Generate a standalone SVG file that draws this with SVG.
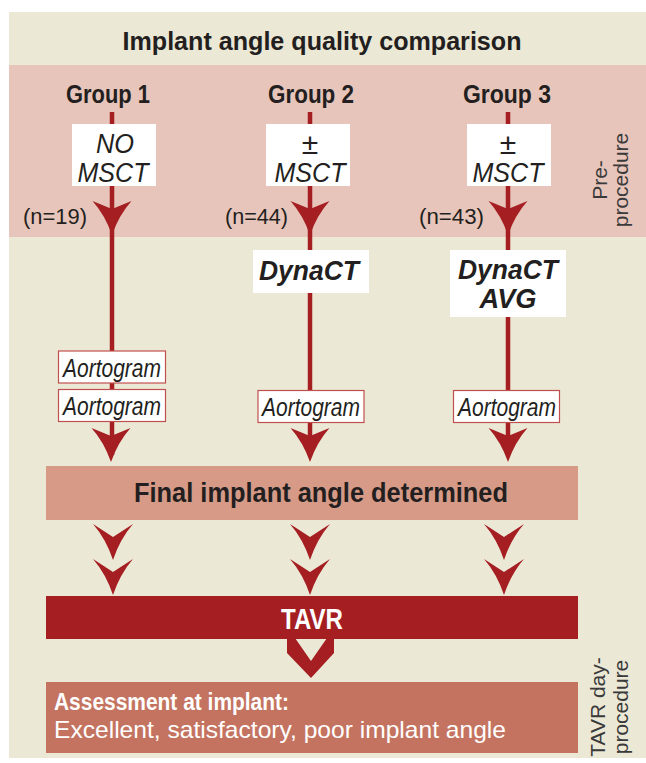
<svg xmlns="http://www.w3.org/2000/svg" width="646" height="763" viewBox="0 0 646 763">
<defs>
<style>
.t{font-family:"Liberation Sans Narrow","Liberation Sans",Arial,sans-serif;fill:#231f20}
.b{font-weight:bold}
.i{font-style:italic}
.w{fill:#ffffff}
.side{font-family:"Liberation Sans",Arial,sans-serif;font-size:21px;fill:#3a3a3a;text-anchor:middle}
.line{stroke:#a51e22;stroke-width:4.5;fill:none}
.wbox{fill:#ffffff}
.abox{fill:#ffffff;stroke:#c0504d;stroke-width:1.2}
.ah{fill:#a51e22}
</style>
<path id="arr" d="M-19.5,0 L0,8 L19.5,0 Q7,14 0,34 Q-7,14 -19.5,0 Z"/>
<path id="chev" d="M-20,0 L0,13 L20,0 Q7,15 0,36 Q-7,15 -20,0 Z"/>
</defs>

<g id="background">
<rect x="9" y="12" width="637" height="746" fill="#ece8d6"/>
<rect x="9" y="65" width="637" height="172" fill="#e8c5ba"/>
</g>

<g id="title">
<text class="t b" x="322" y="50" font-size="25" text-anchor="middle" textLength="399" lengthAdjust="spacingAndGlyphs">Implant angle quality comparison</text>
</g>

<g id="side-labels">
<g transform="translate(607,180) rotate(-90)">
<text class="side" x="0" y="0">Pre-</text>
<text class="side" x="0" y="21">procedure</text>
</g>
<g transform="translate(605,707) rotate(-90)">
<text class="side" x="0" y="0">TAVR day-</text>
<text class="side" x="0" y="23">procedure</text>
</g>
</g>

<g id="connectors">
<line class="line" x1="112" y1="112" x2="112" y2="455"/>
<line class="line" x1="310" y1="112" x2="310" y2="455"/>
<line class="line" x1="508" y1="112" x2="508" y2="455"/>
<use href="#arr" class="ah" x="112" y="201"/>
<use href="#arr" class="ah" x="310" y="201"/>
<use href="#arr" class="ah" x="508" y="201"/>
<use href="#arr" class="ah" x="111" y="428"/>
<use href="#arr" class="ah" x="310" y="428"/>
<use href="#arr" class="ah" x="508" y="428"/>
<use href="#chev" class="ah" x="113" y="524"/>
<use href="#chev" class="ah" x="113" y="559"/>
<use href="#chev" class="ah" x="310" y="524"/>
<use href="#chev" class="ah" x="310" y="559"/>
<use href="#chev" class="ah" x="504" y="524"/>
<use href="#chev" class="ah" x="504" y="559"/>
<polygon class="ah" points="287,638 295,638 311,661 327,638 334,638 334,653 311,678 287,653"/>
</g>

<g id="group1">
<text class="t b" x="108" y="103" font-size="26" text-anchor="middle" textLength="84" lengthAdjust="spacingAndGlyphs">Group 1</text>
<rect class="wbox" x="72" y="124" width="84" height="62"/>
<text class="t i" x="115" y="153" font-size="27" text-anchor="middle" textLength="38" lengthAdjust="spacingAndGlyphs">NO</text>
<text class="t i" x="113" y="182" font-size="27" text-anchor="middle" textLength="71" lengthAdjust="spacingAndGlyphs">MSCT</text>
<text class="t" x="23" y="224" font-size="22" textLength="64" lengthAdjust="spacingAndGlyphs">(n=19)</text>
<rect class="abox" x="58.5" y="351" width="107" height="32"/>
<text class="t i" x="112" y="377" font-size="25" text-anchor="middle" textLength="98" lengthAdjust="spacingAndGlyphs">Aortogram</text>
<rect class="abox" x="58.5" y="389.5" width="107" height="32"/>
<text class="t i" x="112" y="415" font-size="25" text-anchor="middle" textLength="98" lengthAdjust="spacingAndGlyphs">Aortogram</text>
</g>

<g id="group2">
<text class="t b" x="311" y="103" font-size="26" text-anchor="middle" textLength="86" lengthAdjust="spacingAndGlyphs">Group 2</text>
<rect class="wbox" x="266" y="124" width="84" height="62"/>
<text class="t" x="310" y="154" font-size="30" text-anchor="middle">±</text>
<text class="t i" x="310" y="182" font-size="27" text-anchor="middle" textLength="71" lengthAdjust="spacingAndGlyphs">MSCT</text>
<text class="t" x="225" y="224" font-size="22" textLength="63" lengthAdjust="spacingAndGlyphs">(n=44)</text>
<rect class="wbox" x="253" y="250" width="116" height="43"/>
<text class="t b i" x="309" y="280" font-size="28" text-anchor="middle" textLength="100" lengthAdjust="spacingAndGlyphs">DynaCT</text>
<rect class="abox" x="258" y="390.5" width="106" height="32"/>
<text class="t i" x="311" y="416" font-size="25" text-anchor="middle" textLength="98" lengthAdjust="spacingAndGlyphs">Aortogram</text>
</g>

<g id="group3">
<text class="t b" x="507" y="103" font-size="26" text-anchor="middle" textLength="88" lengthAdjust="spacingAndGlyphs">Group 3</text>
<rect class="wbox" x="467" y="124" width="84" height="62"/>
<text class="t" x="508" y="154" font-size="30" text-anchor="middle">±</text>
<text class="t i" x="508" y="182" font-size="27" text-anchor="middle" textLength="71" lengthAdjust="spacingAndGlyphs">MSCT</text>
<text class="t" x="419" y="224" font-size="22" textLength="65" lengthAdjust="spacingAndGlyphs">(n=43)</text>
<rect class="wbox" x="450" y="250" width="116" height="67"/>
<text class="t b i" x="508" y="279" font-size="27" text-anchor="middle" textLength="100" lengthAdjust="spacingAndGlyphs">DynaCT</text>
<text class="t b i" x="508" y="308" font-size="27" text-anchor="middle" textLength="57" lengthAdjust="spacingAndGlyphs">AVG</text>
<rect class="abox" x="453.5" y="390.5" width="106" height="32"/>
<text class="t i" x="507" y="416" font-size="25" text-anchor="middle" textLength="98" lengthAdjust="spacingAndGlyphs">Aortogram</text>
</g>

<g id="final-angle">
<rect x="46" y="466" width="532" height="54" fill="#d69a87"/>
<text class="t b" x="321" y="502" font-size="27" text-anchor="middle" textLength="374" lengthAdjust="spacingAndGlyphs">Final implant angle determined</text>
</g>

<g id="tavr">
<rect x="46" y="596" width="532" height="43" fill="#a51e22"/>
<text class="t b w" x="312" y="629" font-size="29" text-anchor="middle" textLength="62" lengthAdjust="spacingAndGlyphs">TAVR</text>
</g>

<g id="assessment">
<rect x="46" y="682" width="532" height="71" fill="#c47360"/>
<text class="t b w" x="54" y="710" font-size="24" textLength="235" lengthAdjust="spacingAndGlyphs">Assessment at implant:</text>
<text class="t w" x="54" y="738" font-size="24" textLength="452" lengthAdjust="spacingAndGlyphs">Excellent, satisfactory, poor implant angle</text>
</g>
</svg>
